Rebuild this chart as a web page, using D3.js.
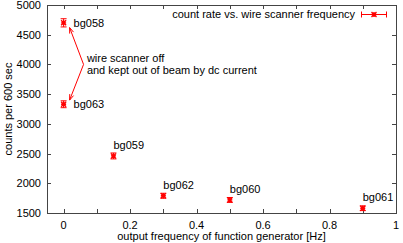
<!DOCTYPE html>
<html>
<head>
<meta charset="utf-8">
<script src="https://cdnjs.cloudflare.com/ajax/libs/d3/7.8.5/d3.min.js"></script>
<style>
  body { margin: 0; background: #fff; }
  text { font-family: "Liberation Sans", Arial, sans-serif; font-size: 11px; fill: #000; }
</style>
</head>
<body>
<div id="chart"></div>
<script>
(() => {

  // data
  let runs = ["bg058", "bg063", "bg059", "bg062", "bg060", "bg061"]
  let freq = [0, 0, 0.15, 0.3, 0.5, 0.9]
  let counts = [4700, 3330, 2460, 1790, 1720, 1580]
  let errs = [69, 58, 50, 42, 41, 40]
  // label placement: "right" of point or "above"
  let labelPos = ["right", "right", "above", "above", "above", "above"]

  let xTicks = [0, 0.2, 0.4, 0.6, 0.8, 1]
  let xMinor = [0.1, 0.3, 0.5, 0.7, 0.9]
  let yTicks = [1500, 2000, 2500, 3000, 3500, 4000, 4500, 5000]

  let note = ["wire scanner off", "and kept out of beam by dc current"]
  let legendText = "count rate vs. wire scanner frequency"

  let data = runs.map((r, i) => ({run: r, f: freq[i], c: counts[i], e: errs[i], pos: labelPos[i]}))

  let svg = d3.select("#chart")
  .append("svg")
  .attr("width", 403)
  .attr("height", 243)

  let margin = {top: 5, right: 7, bottom: 30, left: 47}
  let width = 403 - margin.left - margin.right
  let height = 243 - margin.top - margin.bottom

  let red = "#ff0000"

  let x = d3.scaleLinear().domain([-0.05, 1]).range([margin.left, margin.left + width])
  let y = d3.scaleLinear().domain([1500, 5000]).range([margin.top + height, margin.top])

  let axes = svg.append("g").attr("stroke", "#444").attr("stroke-width", 1)

  // frame
  axes.append("rect")
  .attr("x", margin.left + 0.5)
  .attr("y", margin.top + 0.5)
  .attr("width", width)
  .attr("height", height)
  .attr("fill", "none")

  // x ticks bottom & top (mirrored)
  let allX = xTicks.concat(xMinor)
  allX.forEach(t => {
    let px = Math.round(x(t)) + 0.5
    axes.append("line").attr("x1", px).attr("x2", px)
      .attr("y1", margin.top + height).attr("y2", margin.top + height - 4)
    axes.append("line").attr("x1", px).attr("x2", px)
      .attr("y1", margin.top).attr("y2", margin.top + 4)
  })
  yTicks.forEach(t => {
    let py = Math.round(y(t)) + 0.5
    axes.append("line").attr("y1", py).attr("y2", py)
      .attr("x1", margin.left).attr("x2", margin.left + 4)
    axes.append("line").attr("y1", py).attr("y2", py)
      .attr("x1", margin.left + width).attr("x2", margin.left + width - 4)
  })

  svg.selectAll(".xlab")
  .data(xTicks)
  .enter()
  .append("text")
  .attr("x", d => x(d))
  .attr("y", margin.top + height + 16)
  .style("text-anchor", "middle")
  .text(d => d)

  svg.selectAll(".ylab")
  .data(yTicks)
  .enter()
  .append("text")
  .attr("x", 41)
  .attr("y", d => y(d) + 4)
  .style("text-anchor", "end")
  .text(d => d)

  svg.append("text")
  .attr("x", margin.left + width / 2)
  .attr("y", 240)
  .style("text-anchor", "middle")
  .text("output frequency of function generator [Hz]")

  svg.append("text")
  .attr("transform", "translate(12," + (margin.top + height / 2) + ") rotate(-90)")
  .style("text-anchor", "middle")
  .text("counts per 600 sec")

  // annotation arrows
  let vertex = {f: 0.06, c: 4000}
  let ends = [{f: 0.018, c: 4620}, {f: 0.018, c: 3400}]
  let ann = svg.append("g").attr("stroke", red).attr("stroke-width", 1).attr("fill", "none")
  ends.forEach(e => {
    let x0 = x(vertex.f), y0 = y(vertex.c), x1 = x(e.f), y1 = y(e.c)
    ann.append("line").attr("x1", x0).attr("y1", y0).attr("x2", x1).attr("y2", y1)
    let ang = Math.atan2(y1 - y0, x1 - x0)
    let L = 6, w = 0.35
    ann.append("path").attr("d",
      "M" + (x1 - L * Math.cos(ang - w)) + "," + (y1 - L * Math.sin(ang - w)) +
      "L" + x1 + "," + y1 +
      "L" + (x1 - L * Math.cos(ang + w)) + "," + (y1 - L * Math.sin(ang + w)))
  })

  svg.selectAll(".note")
  .data(note)
  .enter()
  .append("text")
  .attr("x", x(0.07))
  .attr("y", (d, i) => y(vertex.c) - 2 + i * 12)
  .text(d => d)

  // error bars + points
  let cap = 3
  let star = (g, cx, cy) => {
    let s = 2.5
    g.append("path").attr("stroke-width", 1.3).attr("d",
      "M" + (cx - s) + "," + cy + "h" + (2 * s) +
      "M" + cx + "," + (cy - s) + "v" + (2 * s) +
      "M" + (cx - s) + "," + (cy - s) + "l" + (2 * s) + "," + (2 * s) +
      "M" + (cx - s) + "," + (cy + s) + "l" + (2 * s) + "," + (-2 * s))
  }

  let pts = svg.append("g").attr("stroke", red).attr("stroke-width", 1).attr("fill", "none")
  data.forEach(d => {
    let cx = x(d.f), top = y(d.c + d.e), bot = y(d.c - d.e)
    pts.append("line").attr("x1", cx).attr("x2", cx).attr("y1", top).attr("y2", bot)
    pts.append("line").attr("x1", cx - cap).attr("x2", cx + cap).attr("y1", top).attr("y2", top)
    pts.append("line").attr("x1", cx - cap).attr("x2", cx + cap).attr("y1", bot).attr("y2", bot)
    star(pts, cx, y(d.c))
  })

  svg.selectAll(".runlab")
  .data(data)
  .enter()
  .append("text")
  .attr("x", d => d.pos == "right" ? x(d.f) + 10 : x(d.f))
  .attr("y", d => d.pos == "right" ? y(d.c) + 4 : y(d.c) - 7)
  .text(d => d.run)

  // legend
  svg.append("text")
  .attr("x", 355)
  .attr("y", 18)
  .style("text-anchor", "end")
  .text(legendText)

  let lg = svg.append("g").attr("stroke", red).attr("stroke-width", 1).attr("fill", "none")
  lg.append("line").attr("x1", 361).attr("x2", 387).attr("y1", 14.5).attr("y2", 14.5)
  lg.append("line").attr("x1", 361.5).attr("x2", 361.5).attr("y1", 11.5).attr("y2", 17.5)
  lg.append("line").attr("x1", 386.5).attr("x2", 386.5).attr("y1", 11.5).attr("y2", 17.5)
  star(lg, 374, 14.5)

})()
</script>
</body>
</html>
